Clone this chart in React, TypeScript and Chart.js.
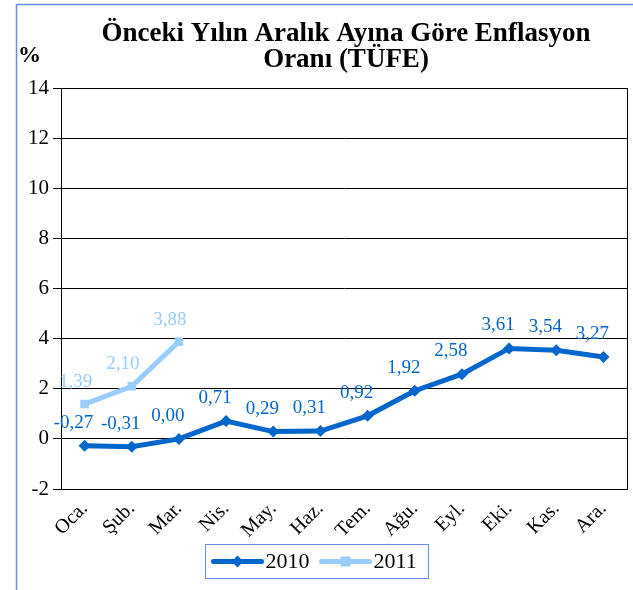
import React, { useEffect, useRef } from "react";
import { Chart, registerables } from "chart.js";

Chart.register(...registerables);

const categories = ["Oca.", "Şub.", "Mar.", "Nis.", "May.", "Haz.", "Tem.", "Ağu.", "Eyl.", "Eki.", "Kas.", "Ara."];
const series2010 = [-0.27, -0.31, 0.0, 0.71, 0.29, 0.31, 0.92, 1.92, 2.58, 3.61, 3.54, 3.27];
const series2011 = [1.39, 2.1, 3.88];
const yTicks = [-2, 0, 2, 4, 6, 8, 10, 12, 14];
const titleLines = ["Önceki Yılın Aralık Ayına Göre Enflasyon", "Oranı (TÜFE)"];
const unitLabel = "%";
const seriesNames = ["2010", "2011"];

const C2010 = "#0066cc";
const C2011 = "#99ccff";
const FRAME = "#6a8cf0";
const SERIF = "'Liberation Serif', 'Times New Roman', serif";

const fmt = (v: number) => v.toFixed(2).replace(".", ",");

const decorPlugin = {
  id: "decor",
  afterDraw(chart: any) {
    const ctx = chart.ctx as CanvasRenderingContext2D;
    const ca = chart.chartArea;
    ctx.save();
    // plot border
    ctx.strokeStyle = "#000";
    ctx.lineWidth = 1;
    ctx.strokeRect(Math.round(ca.left) + 0.5, Math.round(ca.top) + 0.5, Math.round(ca.right - ca.left), Math.round(ca.bottom - ca.top));

    // outer frame
    ctx.strokeStyle = FRAME;
    ctx.lineWidth = 1.5;
    ctx.beginPath();
    ctx.moveTo(16.5, chart.height);
    ctx.lineTo(16.5, 4.5);
    ctx.lineTo(chart.width, 4.5);
    ctx.stroke();

    // title
    ctx.fillStyle = "#000";
    ctx.font = `bold 27px ${SERIF}`;
    ctx.textAlign = "center";
    ctx.textBaseline = "alphabetic";
    const cx = (ca.left + ca.right) / 2 + 2;
    ctx.fillText(titleLines[0], cx, 41);
    ctx.fillText(titleLines[1], cx, 67);

    // unit
    ctx.font = `bold 23px ${SERIF}`;
    ctx.textAlign = "left";
    ctx.fillText(unitLabel, 18, 62);

    // data labels
    ctx.font = `19px ${SERIF}`;
    ctx.textAlign = "center";
    ctx.textBaseline = "middle";
    const offs = [
      { dx: -11, dy: -23 },
      { dx: -9, dy: -22 },
    ];
    chart.data.datasets.forEach((ds: any, i: number) => {
      const meta = chart.getDatasetMeta(i);
      ctx.fillStyle = ds.borderColor;
      meta.data.forEach((pt: any, j: number) => {
        const v = ds.data[j];
        if (v === null || v === undefined) return;
        ctx.fillText(fmt(v), pt.x + offs[i].dx, pt.y + offs[i].dy);
      });
    });

    // legend
    const lw = 223;
    const lh = 34;
    const lx = Math.round(chart.width / 2 - lw / 2) + 0.5;
    const ly = 544.5;
    ctx.strokeStyle = FRAME;
    ctx.lineWidth = 1;
    ctx.strokeRect(lx, ly, lw, lh);
    const my = ly + lh / 2;
    const items = [
      { color: C2010, style: "diamond", name: seriesNames[0], x: lx + 6 },
      { color: C2011, style: "square", name: seriesNames[1], x: lx + 114 },
    ];
    items.forEach((it) => {
      ctx.strokeStyle = it.color;
      ctx.fillStyle = it.color;
      ctx.lineWidth = 5;
      ctx.lineCap = "round";
      ctx.beginPath();
      ctx.moveTo(it.x + 2, my);
      ctx.lineTo(it.x + 50, my);
      ctx.stroke();
      const mx = it.x + 26;
      ctx.beginPath();
      if (it.style === "diamond") {
        ctx.moveTo(mx, my - 6);
        ctx.lineTo(mx + 6, my);
        ctx.lineTo(mx, my + 6);
        ctx.lineTo(mx - 6, my);
        ctx.closePath();
      } else {
        ctx.rect(mx - 5, my - 5, 10, 10);
      }
      ctx.fill();
      ctx.fillStyle = "#000";
      ctx.font = `22px ${SERIF}`;
      ctx.textAlign = "left";
      ctx.textBaseline = "middle";
      ctx.fillText(it.name, it.x + 54, my + 1);
    });
    ctx.restore();
  },
};

export default function App() {
  const ref = useRef<HTMLCanvasElement>(null);
  useEffect(() => {
    if (!ref.current) return;
    const chart = new Chart(ref.current, {
      type: "line",
      data: {
        labels: categories,
        datasets: [
          {
            label: seriesNames[0],
            data: series2010,
            borderColor: C2010,
            backgroundColor: C2010,
            borderWidth: 5,
            pointStyle: "rectRot",
            pointRadius: 6,
            pointBorderWidth: 0,
            tension: 0,
          },
          {
            label: seriesNames[1],
            data: series2011,
            borderColor: C2011,
            backgroundColor: C2011,
            borderWidth: 5,
            pointStyle: "rect",
            pointRadius: 6,
            pointBorderWidth: 0,
            tension: 0,
          },
        ],
      },
      options: {
        animation: false,
        responsive: false,
        maintainAspectRatio: false,
        layout: { padding: { left: 17, top: 88, right: 4, bottom: 0 } },
        plugins: { legend: { display: false }, title: { display: false }, tooltip: { enabled: false } },
        scales: {
          x: {
            offset: true,
            grid: { display: false },
            border: { display: true, color: "#000", width: 1 },
            ticks: {
              color: "#000",
              font: { family: SERIF, size: 20 },
              minRotation: 45,
              maxRotation: 45,
              padding: 0,
            },
            afterFit: (s: any) => {
              s.height = 101;
            },
          },
          y: {
            min: -2,
            max: 14,
            afterBuildTicks: (s: any) => {
              s.ticks = yTicks.map((v) => ({ value: v }));
            },
            grid: { color: "#000", lineWidth: 1, tickLength: 8, tickColor: "#000" },
            border: { display: true, color: "#000", width: 1 },
            ticks: {
              color: "#000",
              font: { family: SERIF, size: 21 },
              padding: 4,
              callback: (v: any) => String(v),
            },
            afterFit: (s: any) => {
              s.width = 44;
            },
          },
        },
      },
      plugins: [decorPlugin],
    });
    return () => chart.destroy();
  }, []);
  return (
    <div style={{ position: "absolute", left: 0, top: 0, width: 633, height: 590, background: "#fff" }}>
      <canvas ref={ref} width={633} height={590} style={{ display: "block", width: 633, height: 590 }} />
    </div>
  );
}
